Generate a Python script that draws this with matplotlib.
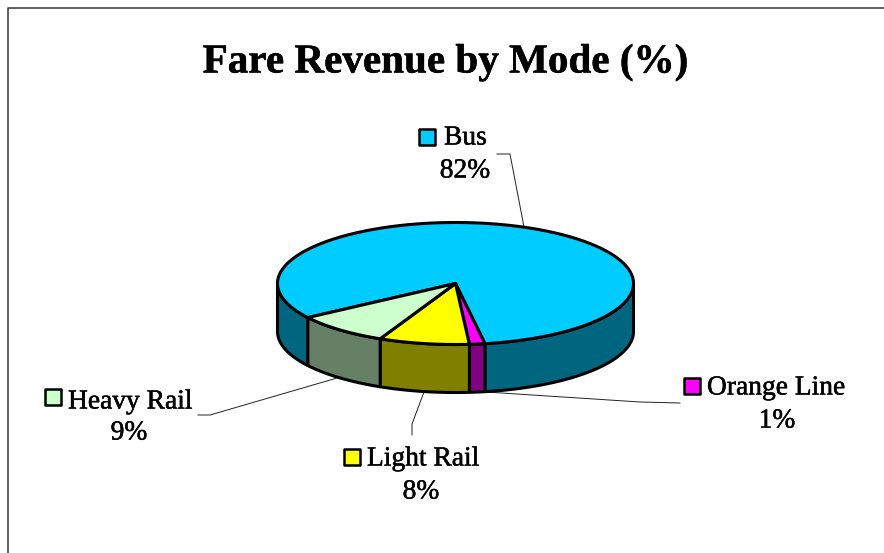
import numpy as np
import matplotlib
matplotlib.use("Agg")
import matplotlib.pyplot as plt
import matplotlib.patheffects as pe

# Slices in drawing order, clockwise
modes = ['Bus', 'Orange Line', 'Light Rail', 'Heavy Rail']
shares = [81.8, 1.4, 8.2, 8.6]
top_colors = ['#00CCFF', '#FF00FF', '#FFFF00', '#CCFFCC']
side_colors = ['#006680', '#800080', '#808000', '#668066']

# Pie geometry in pixels
cx, cy = 455.5, 283.5
rx, ry = 178, 61
depth = 48
start_angle = 214.0

# Label layout: swatch position, text position
swatch_pos = [(427, 137), (692, 386), (352, 457), (53, 397)]
label_pos = [(444, 138), (707, 388), (367, 459), (68, 402)]
pct_pos = [(465, 171), (777, 421), (421, 492), (129, 433)]
leaders = [
    [(497, 154), (510, 154), (524, 227)],
    [(486, 392), (640, 402), (680, 403)],
    [(424, 392), (412, 424), (412, 435)],
    [(198, 415), (210, 415), (337, 378)],
]

plt.rcParams['font.family'] = ['Liberation Serif']

fig = plt.figure(figsize=(8.84, 5.53), dpi=100)
ax = fig.add_axes([0, 0, 1, 1])
ax.set_xlim(0, 884)
ax.set_ylim(553, 0)
ax.axis('off')

# Chart frame, only top and left fall inside the crop
ax.plot([7.5, 7.5, 884], [553, 7.5, 7.5], color='#333333', lw=1.1)


def px(t):
    return cx + rx * np.cos(t)


def py(t):
    return cy - ry * np.sin(t)


# Slice limits from the values
sweep = np.array(shares) / sum(shares) * 360
ends = start_angle - np.cumsum(sweep)
starts = ends + sweep

edge = '#000000'
lw = 2.2

# Side wall first, only the front half of the ellipse shows
for i in range(len(modes)):
    t = np.radians(np.arange(starts[i], ends[i] - 0.1, -0.25))
    front = np.sin(t) <= 0
    breaks = np.where(np.diff(front.astype(int)) != 0)[0] + 1
    for part, mask in zip(np.split(t, breaks), np.split(front, breaks)):
        if not mask[0] or len(part) < 2:
            continue
        xs = np.concatenate([px(part), px(part[::-1])])
        ys = np.concatenate([py(part), py(part[::-1]) + depth])
        ax.fill(xs, ys, facecolor=side_colors[i], edgecolor=edge, lw=lw,
                joinstyle='round', zorder=2)

# Top face
for i in range(len(modes)):
    t = np.radians(np.arange(starts[i], ends[i] - 0.1, -0.25))
    xs = np.concatenate([[cx], px(t)])
    ys = np.concatenate([[cy], py(t)])
    ax.fill(xs, ys, facecolor=top_colors[i], edgecolor=edge, lw=lw,
            joinstyle='round', zorder=3)

# Leader lines
for line in leaders:
    ax.plot([p[0] for p in line], [p[1] for p in line], color='#222222',
            lw=0.7, zorder=1)

# Slightly heavier strokes on the text, the reference type is darker
heavy = [pe.withStroke(linewidth=0.35, foreground='black')]

# Labels
for i in range(len(modes)):
    ax.scatter(*swatch_pos[i], marker='s', s=125, facecolor=top_colors[i],
               edgecolor=edge, linewidth=1.8, zorder=4)
    ax.text(label_pos[i][0], label_pos[i][1], modes[i], fontsize=19.8,
            ha='left', va='center', color='black', path_effects=heavy)
    ax.text(pct_pos[i][0], pct_pos[i][1], f"{round(shares[i])}%", fontsize=19.8,
            ha='center', va='center', color='black', path_effects=heavy)

ax.text(445.5, 63, "Fare Revenue by Mode (%)", fontsize=29.6, fontweight='bold',
        ha='center', va='center', color='black', path_effects=heavy)

fig.savefig('out.png', dpi=100)
